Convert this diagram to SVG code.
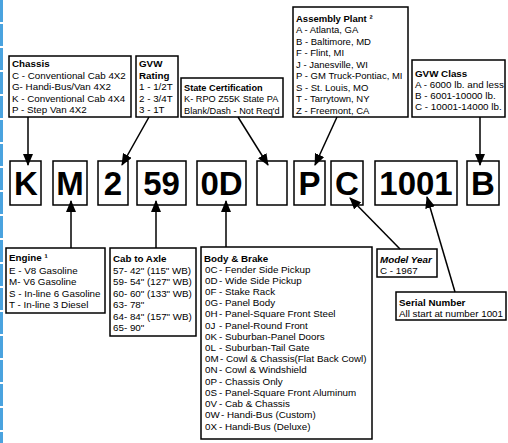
<svg xmlns="http://www.w3.org/2000/svg" width="508" height="443" viewBox="0 0 508 443">
<style>
.box{fill:#fff;stroke:#000;stroke-width:1.5}
.t{font-family:"Liberation Sans",Arial,sans-serif;font-size:9.8px;fill:#000}
.h{font-family:"Liberation Sans",Arial,sans-serif;font-size:9.8px;font-weight:bold;fill:#000}
.s{font-size:9.2px}
.a{font-size:9.5px}
.code{font-family:"Liberation Sans",Arial,sans-serif;font-size:33px;font-weight:bold;fill:#000;text-anchor:middle}
.c{stroke:#000;stroke-width:1.5;fill:none;marker-end:url(#ah)}
</style>
<defs>
<marker id="ah" viewBox="0 0 12 10" refX="11" refY="5" markerWidth="12" markerHeight="10" markerUnits="userSpaceOnUse" orient="auto">
<path d="M0,0 L12,5 L0,10 Z" fill="#000"/>
</marker>
</defs>
<rect width="508" height="443" fill="#fff"/>
<line x1="1.5" y1="0" x2="1.5" y2="443" stroke="#4aa3df" stroke-width="3" stroke-dasharray="22 2"/>

<g id="chassis">
<rect class="box" x="9" y="56" width="122" height="61"/>
<text class="h" x="12" y="67">Chassis</text>
<text class="t" x="12" y="78.5">C - Conventional Cab 4X2</text>
<text class="t" x="12" y="90">G- Handi-Bus/Van 4X2</text>
<text class="t" x="12" y="101.5">K - Conventional Cab 4X4</text>
<text class="t" x="12" y="113">P - Step Van 4X2</text>
</g>
<g id="gvw-rating">
<rect class="box" x="136" y="56" width="42" height="61"/>
<text class="h" x="139" y="67">GVW</text>
<text class="h" x="139" y="78.5">Rating</text>
<text class="t" x="139" y="90">1 - 1/2T</text>
<text class="t" x="139" y="101.5">2 - 3/4T</text>
<text class="t" x="139" y="113">3 - 1T</text>
</g>
<g id="state-cert">
<rect class="box" x="181" y="78" width="102" height="39"/>
<text class="h s" x="184" y="90.5">State Certification</text>
<text class="t s" x="184" y="102">K- RPO Z55K State PA</text>
<text class="t s" x="184" y="113.5">Blank/Dash - Not Req'd</text>
</g>
<g id="assembly">
<rect class="box" x="293" y="7" width="115" height="110"/>
<text class="h a" x="296" y="21.5">Assembly Plant ²</text>
<text class="t a" x="296" y="33">A - Atlanta, GA</text>
<text class="t a" x="296" y="44.5">B - Baltimore, MD</text>
<text class="t a" x="296" y="56">F - Flint, MI</text>
<text class="t a" x="296" y="67.5">J - Janesville, WI</text>
<text class="t a" x="296" y="79">P - GM Truck-Pontiac, MI</text>
<text class="t a" x="296" y="90.5">S - St. Louis, MO</text>
<text class="t a" x="296" y="102">T - Tarrytown, NY</text>
<text class="t a" x="296" y="113.5">Z - Freemont, CA</text>
</g>
<g id="gvw-class">
<rect class="box" x="412" y="60" width="93" height="57"/>
<text class="h" x="415" y="76.5">GVW Class</text>
<text class="t" x="415" y="87.5">A - 6000 lb. and less</text>
<text class="t" x="415" y="98.5">B - 6001-10000 lb.</text>
<text class="t" x="415" y="109.5">C - 10001-14000 lb.</text>
</g>

<g id="code-K"><rect class="box" x="10" y="161" width="31" height="44"/><text class="code" x="26" y="195">K</text></g>
<g id="code-M"><rect class="box" x="53" y="161" width="34" height="44"/><text class="code" x="70" y="195">M</text></g>
<g id="code-2"><rect class="box" x="98" y="161" width="30" height="44"/><text class="code" x="113" y="195">2</text></g>
<g id="code-59"><rect class="box" x="137" y="161" width="49" height="44"/><text class="code" x="161.5" y="195">59</text></g>
<g id="code-0D"><rect class="box" x="197" y="161" width="49" height="44"/><text class="code" x="221.5" y="195">0D</text></g>
<g id="code-blank"><rect class="box" x="257" y="161" width="30" height="44"/></g>
<g id="code-P"><rect class="box" x="294" y="161" width="31" height="44"/><text class="code" x="309.5" y="195">P</text></g>
<g id="code-C"><rect class="box" x="331" y="161" width="32" height="44"/><text class="code" x="347" y="195">C</text></g>
<g id="code-1001"><rect class="box" x="375" y="161" width="82" height="44"/><text class="code" x="416" y="195">1001</text></g>
<g id="code-B"><rect class="box" x="467" y="161" width="32" height="44"/><text class="code" x="483" y="195">B</text></g>

<g id="engine">
<rect class="box" x="6" y="248" width="99" height="65"/>
<text class="h" x="9" y="261">Engine ¹</text>
<text class="t" x="9" y="273.5">E - V8 Gasoline</text>
<text class="t" x="9" y="285">M- V6 Gasoline</text>
<text class="t" x="9" y="296.5">S - In-line 6 Gasoline</text>
<text class="t" x="9" y="308">T - In-line 3 Diesel</text>
</g>
<g id="cab-to-axle">
<rect class="box" x="110" y="248" width="86" height="88"/>
<text class="h" x="113" y="262">Cab to Axle</text>
<text class="t" x="113" y="273.5">57- 42" (115" WB)</text>
<text class="t" x="113" y="285">59- 54" (127" WB)</text>
<text class="t" x="113" y="296.5">60- 60" (133" WB)</text>
<text class="t" x="113" y="308">63- 78"</text>
<text class="t" x="113" y="319.5">64- 84" (157" WB)</text>
<text class="t" x="113" y="331">65- 90"</text>
</g>
<g id="body-brake">
<rect class="box" x="201" y="247" width="171" height="192"/>
<text class="h" x="204" y="262">Body &amp; Brake</text>
<text class="t" x="205" y="272.5">0C<tspan x="219">- Fender Side Pickup</tspan></text>
<text class="t" x="205" y="283.7">0D<tspan x="219">- Wide Side Pickup</tspan></text>
<text class="t" x="205" y="294.9">0F<tspan x="219">- Stake Rack</tspan></text>
<text class="t" x="205" y="306.1">0G<tspan x="219">- Panel Body</tspan></text>
<text class="t" x="205" y="317.3">0H<tspan x="219">- Panel-Square Front Steel</tspan></text>
<text class="t" x="205" y="328.5">0J<tspan x="219">- Panel-Round Front</tspan></text>
<text class="t" x="205" y="339.8">0K<tspan x="219">- Suburban-Panel Doors</tspan></text>
<text class="t" x="205" y="351">0L<tspan x="219">- Suburban-Tail Gate</tspan></text>
<text class="t" x="205" y="362.2">0M<tspan x="220">- Cowl &amp; Chassis(Flat Back Cowl)</tspan></text>
<text class="t" x="205" y="373.4">0N<tspan x="219">- Cowl &amp; Windshield</tspan></text>
<text class="t" x="205" y="384.6">0P<tspan x="219">- Chassis Only</tspan></text>
<text class="t" x="205" y="395.8">0S<tspan x="219">- Panel-Square Front Aluminum</tspan></text>
<text class="t" x="205" y="407">0V<tspan x="219">- Cab &amp; Chassis</tspan></text>
<text class="t" x="205" y="418.3">0W<tspan x="221">- Handi-Bus (Custom)</tspan></text>
<text class="t" x="205" y="429.5">0X<tspan x="219">- Handi-Bus (Deluxe)</tspan></text>
</g>
<g id="model-year">
<rect class="box" x="377" y="249" width="60" height="28"/>
<text class="h" x="380" y="262.5" font-style="italic">Model Year</text>
<text class="t" x="380" y="273.5">C - 1967</text>
</g>
<g id="serial">
<rect class="box" x="396" y="292" width="110" height="28"/>
<text class="h" x="399" y="305.5">Serial Number</text>
<text class="t" x="399" y="317">All start at number 1001</text>
</g>

<g id="connectors">
<line class="c" x1="28" y1="117" x2="28" y2="165"/>
<line class="c" x1="149" y1="117" x2="122" y2="165"/>
<line class="c" x1="238" y1="117" x2="268" y2="165"/>
<line class="c" x1="337" y1="117" x2="315" y2="165"/>
<line class="c" x1="480" y1="117" x2="480" y2="165"/>
<line class="c" x1="71" y1="248" x2="71" y2="201"/>
<line class="c" x1="156" y1="248" x2="156" y2="201"/>
<line class="c" x1="226" y1="247" x2="226" y2="201"/>
<line class="c" x1="400" y1="249" x2="350" y2="198"/>
<line class="c" x1="455" y1="292" x2="427" y2="197"/>
</g>
</svg>
